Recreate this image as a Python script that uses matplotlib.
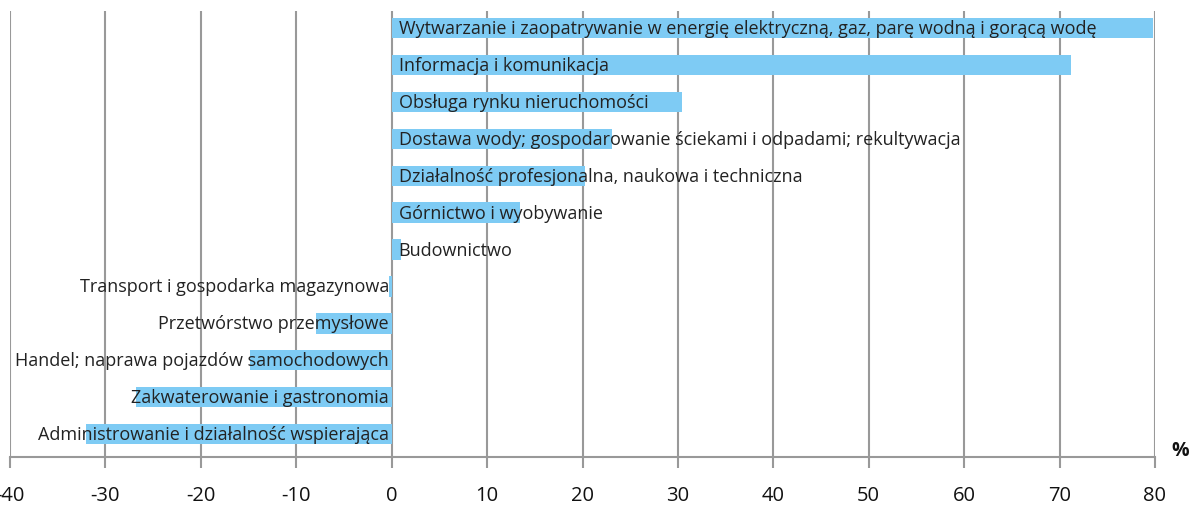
import matplotlib
matplotlib.use('Agg')
import matplotlib.pyplot as plt

# sektory i zmiana w %
labels = [
    'Wytwarzanie i zaopatrywanie w energię elektryczną, gaz, parę wodną i gorącą wodę',
    'Informacja i komunikacja',
    'Obsługa rynku nieruchomości',
    'Dostawa wody; gospodarowanie ściekami i odpadami; rekultywacja',
    'Działalność profesjonalna, naukowa i techniczna',
    'Górnictwo i wyobywanie',
    'Budownictwo',
    'Transport i gospodarka magazynowa',
    'Przetwórstwo przemysłowe',
    'Handel; naprawa pojazdów samochodowych',
    'Zakwaterowanie i gastronomia',
    'Administrowanie i działalność wspierająca',
]
values = [79.8, 71.2, 30.4, 23.1, 20.3, 13.4, 0.95, -0.3, -7.9, -14.8, -26.8, -32.0]
xticks = [-40, -30, -20, -10, 0, 10, 20, 30, 40, 50, 60, 70, 80]

plt.rcParams['font.family'] = ['Open Sans', 'DejaVu Sans']

fig = plt.figure(figsize=(11.92, 5.06), dpi=100)
ax = fig.add_axes([10 / 1192, 1 - 458 / 506, 1145 / 1192, 446 / 506])

ypos = list(range(len(values)))
ax.barh(ypos, values, height=0.55, color='#7ECBF4', zorder=2)

for y, v, lab in zip(ypos, values, labels):
    if v >= 0:
        off, ha = (5, 0), 'left'
    else:
        off, ha = (-2, 0), 'right'
    # biale tlo pod napisem (zaslania siatke, ale nie slupek)
    ax.annotate(lab, (0, y), xytext=off, textcoords='offset points',
                ha=ha, va='center', fontsize=13, color='white', zorder=1.5,
                bbox=dict(boxstyle='square,pad=0.15', fc='white', ec='none'))
    ax.annotate(lab, (0, y), xytext=off, textcoords='offset points',
                ha=ha, va='center', fontsize=13, color='#222222', zorder=3)

ax.set_xlim(-40, 80)
ax.set_ylim(11.62, -0.46)
ax.set_xticks(xticks)
ax.set_xticklabels([str(t) for t in xticks], fontsize=14.5, color='#111111')
ax.set_yticks([])
ax.grid(axis='x', color='#999999', linewidth=1.5, zorder=1)
for s in ['top', 'right', 'left']:
    ax.spines[s].set_visible(False)
ax.spines['bottom'].set_color('#999999')
ax.spines['bottom'].set_linewidth(1.5)
ax.tick_params(axis='x', length=8, width=1.5, color='#999999', pad=12)

fig.text(1180 / 1192, 1 - 451 / 506, '%', fontsize=14, fontweight='bold',
         ha='center', va='center', color='#111111')

fig.savefig('out.png', dpi=100)
